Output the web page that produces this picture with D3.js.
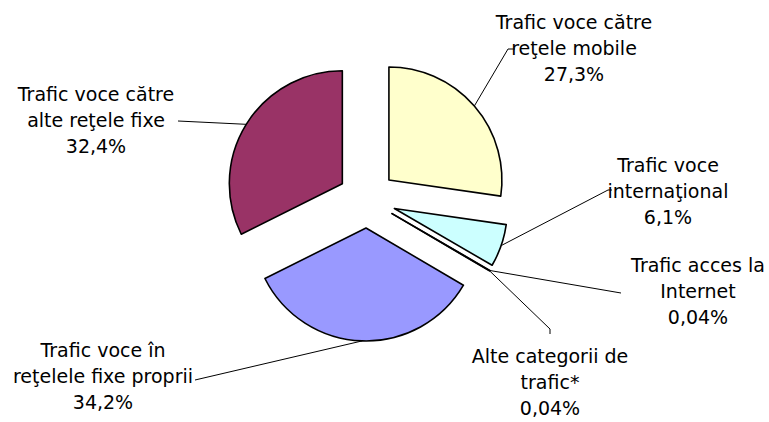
<!DOCTYPE html>
<meta charset="utf-8">
<script src="https://d3js.org/d3.v7.min.js"></script>
<style>
  body { margin: 0; background: #fff; }
  text { font-family: "DejaVu Sans", sans-serif; font-size: 19px; fill: #000; }
</style>
<div id="my_dataviz"></div>
<script>

// categories (label lines), in pie order, clockwise from 12 o'clock
var categories = [
  ["Trafic voce către", "reţele mobile"],
  ["Trafic voce", "internaţional"],
  ["Trafic acces la", "Internet"],
  ["Alte categorii de", "trafic*"],
  ["Trafic voce în", "reţelele fixe proprii"],
  ["Trafic voce către", "alte reţele fixe"]
];
var values = [27.3, 6.1, 0.04, 0.04, 34.2, 32.4];
var colors = ["#FFFFCC", "#CCFFFF", "#FFFFFF", "#FFFFFF", "#9999FF", "#993366"];

// label placement: text center x, first baseline y, leader end points
var labelPos = [
  {x: 574, y: 29, leader: [[508, 49], [515, 49]]},
  {x: 668, y: 172, leader: [[608, 190], [612, 190]]},
  {x: 698, y: 272, leader: [[621, 293]]},
  {x: 550, y: 363, leader: [[550, 329], [550, 334]]},
  {x: 103, y: 357, leader: [[195, 380]]},
  {x: 96, y: 101, leader: [[178, 121]]}
];

var width = 769, height = 422;
var cx = 367, cy = 199, radius = 113, explode = 29, lineH = 26;

var svg = d3.select("#my_dataviz")
  .append("svg")
    .attr("width", width)
    .attr("height", height);

var pie = d3.pie().sort(null).value(function(d) { return d; });
var arcs = pie(values);
var arc = d3.arc().innerRadius(0).outerRadius(radius);

function dir(a) { return [Math.sin(a), -Math.cos(a)]; }

var g = svg.append("g").attr("transform", "translate(" + cx + "," + cy + ")");

g.selectAll("path")
  .data(arcs)
  .enter()
  .append("path")
    .attr("transform", function(d) {
      var m = dir((d.startAngle + d.endAngle) / 2);
      return "translate(" + (m[0] * explode) + "," + (m[1] * explode) + ")";
    })
    .attr("d", arc)
    .attr("fill", function(d, i) { return colors[i]; })
    .attr("stroke", "#000")
    .attr("stroke-width", 1.6)
    .attr("stroke-linejoin", "round");

// leader lines + labels
var fmt = function(v) { return String(v).replace(".", ",") + "%"; };

arcs.forEach(function(d, i) {
  var m = dir((d.startAngle + d.endAngle) / 2);
  var sx = cx + m[0] * (explode + radius), sy = cy + m[1] * (explode + radius);
  var pts = [[sx, sy]].concat(labelPos[i].leader);
  svg.append("path")
    .attr("d", d3.line()(pts))
    .attr("fill", "none")
    .attr("stroke", "#000")
    .attr("stroke-width", 1);

  var t = svg.append("text")
    .attr("text-anchor", "middle")
    .attr("x", labelPos[i].x)
    .attr("y", labelPos[i].y);
  categories[i].concat([fmt(values[i])]).forEach(function(line, k) {
    t.append("tspan")
      .attr("x", labelPos[i].x)
      .attr("y", labelPos[i].y + k * lineH)
      .text(line);
  });
});

</script>
